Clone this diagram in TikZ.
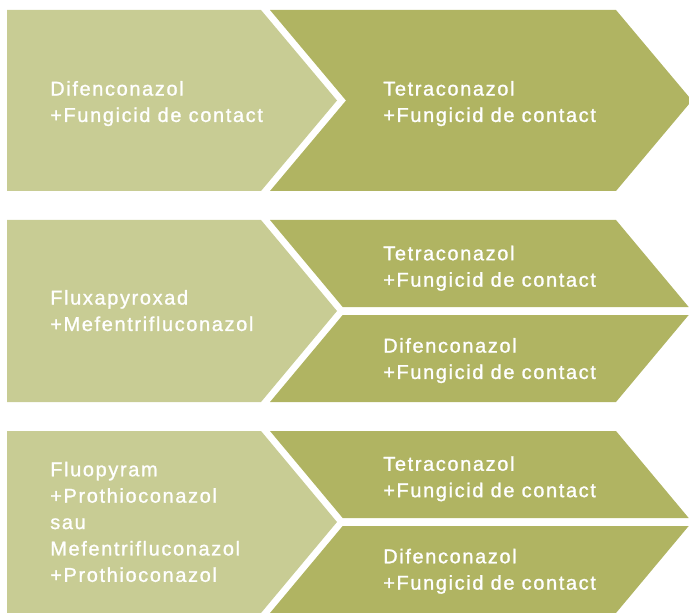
\documentclass[tikz,border=0pt]{standalone}
\usepackage{fontspec}
\setmainfont{Liberation Sans}[LetterSpace=8.1,FakeBold=1.2]
\definecolor{lightol}{RGB}{200,204,148}
\definecolor{darkol}{RGB}{176,180,98}
\tikzset{
  lbl/.style={inner sep=0pt, anchor=north west, align=left, text=white,
    font=\fontsize{15pt}{19.8pt}\selectfont},
  lightfill/.style={fill=lightol},
  darkfill/.style={fill=darkol}
}
\begin{document}
\begin{tikzpicture}[x=0.75pt,y=-0.75pt]
\useasboundingbox (0,0) rectangle (689,613);
\clip (0,0) rectangle (689,613);
% Row 1
\fill[lightfill] (7,10) -- (261,10) -- (337,100.5) -- (261,191) -- (7,191) -- cycle;
\fill[darkfill] (270,10) -- (616,10) -- (692,100.5) -- (616,191) -- (270,191) -- (346,100.5) -- cycle;
% Row 2
\fill[lightfill] (7,220) -- (261,220) -- (337,311) -- (261,402) -- (7,402) -- cycle;
\fill[darkfill] (270,220) -- (616,220) -- (688.7,307) -- (342.7,307) -- cycle;
\fill[darkfill] (342.7,315) -- (688.7,315) -- (616,402) -- (270,402) -- cycle;
% Row 3
\fill[lightfill] (7,431) -- (261,431) -- (337,522) -- (261,613) -- (7,613) -- cycle;
\fill[darkfill] (270,431) -- (616,431) -- (688.7,518) -- (342.7,518) -- cycle;
\fill[darkfill] (342.7,526) -- (688.7,526) -- (616,613) -- (270,613) -- cycle;
% Texts
\node[lbl] (a1) at (50,76.8) {\strut Difenconazol\\+Fungicid de contact};
\node[lbl] (b1) at (383,76.8) {\strut Tetraconazol\\+Fungicid de contact};
\node[lbl] (a2) at (50,285.8) {\strut Fluxapyroxad\\+Mefentrifluconazol};
\node[lbl] (b2) at (383,241.5) {\strut Tetraconazol\\+Fungicid de contact};
\node[lbl] (c2) at (383,333.8) {\strut Difenconazol\\+Fungicid de contact};
\node[lbl] (a3) at (50,457.5) {\strut Fluopyram\\+Prothioconazol\\sau\\Mefentrifluconazol\\+Prothioconazol};
\node[lbl] (b3) at (383,452) {\strut Tetraconazol\\+Fungicid de contact};
\node[lbl] (c3) at (383,544.5) {\strut Difenconazol\\+Fungicid de contact};
\end{tikzpicture}
\end{document}
